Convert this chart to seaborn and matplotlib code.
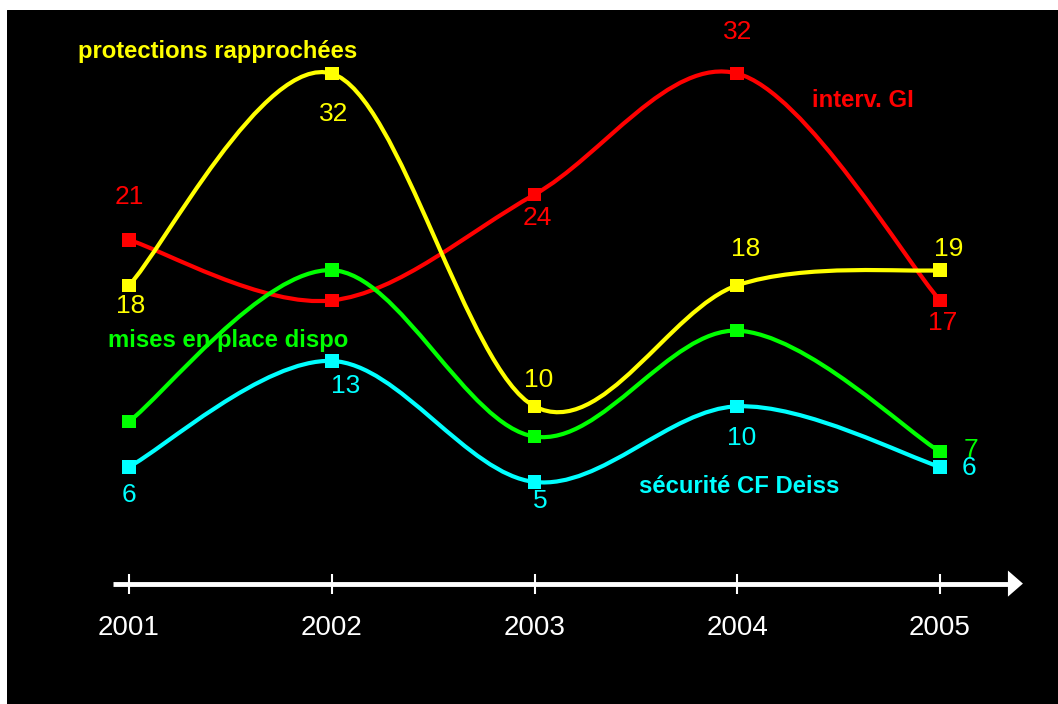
import matplotlib
matplotlib.use("Agg")
from matplotlib import pyplot as plt
from matplotlib.path import Path
from matplotlib.patches import PathPatch
import pandas as pd
import seaborn as sns

# data
years = [2001, 2002, 2003, 2004, 2005]
interv_gi = [21, 17, 24, 32, 17]
protections = [18, 32, 10, 18, 19]
mises_en_place = [9, 19, 8, 15, 7]
securite = [6, 13, 5, 10, 6]

series_names = ["interv. GI", "protections rapprochées", "mises en place dispo", "sécurité CF Deiss"]
series_values = [interv_gi, protections, mises_en_place, securite]
colors = ["#ff0000", "#ffff00", "#00ff00", "#00ffff"]

# which values get a label, with offset in points (dx, dy)
value_labels = {
    "interv. GI": [(0, 31), None, (2, -17), (0, 30), (2, -16)],
    "protections rapprochées": [(1, -15), (1, -29), (3, 19), (6, 26), (6, 15)],
    "mises en place dispo": [None, None, None, None, (22, 1)],
    "sécurité CF Deiss": [(0, -20), (10, -18), (4, -14), (3, -23), (21, -1)],
}
# series name label positions in data coords
name_pos = {
    "interv. GI": (2004.62, 30.2),
    "protections rapprochées": (2001.435, 33.45),
    "mises en place dispo": (2001.49, 14.35),
    "sécurité CF Deiss": (2004.01, 4.70),
}


def smooth_path(xs, ys):
    """Bezier path through the points, like office 'smoothed line' charts."""
    pts = list(zip(xs, ys))
    ext = [pts[0]] + pts + [pts[-1]]
    verts = [pts[0]]
    codes = [Path.MOVETO]
    for i in range(1, len(ext) - 2):
        p0, p1, p2, p3 = ext[i - 1], ext[i], ext[i + 1], ext[i + 2]
        c1 = (p1[0] + (p2[0] - p0[0]) / 6, p1[1] + (p2[1] - p0[1]) / 6)
        c2 = (p2[0] - (p3[0] - p1[0]) / 6, p2[1] - (p3[1] - p1[1]) / 6)
        verts += [c1, c2, p2]
        codes += [Path.CURVE4] * 3
    return Path(verts, codes)


df = pd.concat([pd.DataFrame({"year": years, "value": v, "series": n})
                for n, v in zip(series_names, series_values)], ignore_index=True)

sns.set_style("dark", {"axes.facecolor": "black"})
plt.rcParams["font.family"] = ["Liberation Sans", "DejaVu Sans"]

fig = plt.figure(figsize=(10.58, 7.04), dpi=100, facecolor="white")
ax = fig.add_axes([7 / 1058, 0, 1051 / 1058, 694 / 704])
ax.set_facecolor("black")
ax.set_xlim(2000.398, 2005.582)
ax.set_ylim(-9.68, 36.2)
ax.set_axis_off()
ax.add_patch(plt.Rectangle((0, 0), 1, 1, transform=ax.transAxes, color="black", zorder=0))

for name, vals, col in zip(series_names, series_values, colors):
    ax.add_patch(PathPatch(smooth_path(years, vals), facecolor="none", edgecolor=col,
                           lw=3, zorder=2, capstyle="round"))

sns.scatterplot(data=df, x="year", y="value", hue="series", palette=colors, marker="s",
                s=95, linewidth=0, legend=False, ax=ax, zorder=3)

for name, vals, col in zip(series_names, series_values, colors):
    for yr, v, off in zip(years, vals, value_labels[name]):
        if off is None:
            continue
        ax.annotate(str(v), (yr, v), xytext=off, textcoords="offset points",
                    ha="center", va="center", color=col, fontsize=19)
    nx, ny = name_pos[name]
    ax.text(nx, ny, name, color=col, fontsize=17.2, fontweight="bold", ha="center", va="center")

# time axis with arrow
ax.hlines(-1.72, 2000.92, 2005.35, color="white", lw=3.5)
ax.annotate("", xy=(2005.409, -1.72), xytext=(2005.2, -1.72),
            arrowprops=dict(arrowstyle="-|>,head_length=0.54,head_width=0.47", color="white", lw=0,
                            mutation_scale=20, shrinkA=0, shrinkB=0))
ax.vlines(years, -2.38, -1.06, color="white", lw=1.5)
for yr in years:
    ax.text(yr, -4.64, str(yr), color="white", fontsize=20, ha="center", va="center")

fig.savefig("out.png", dpi=100, facecolor="white")
